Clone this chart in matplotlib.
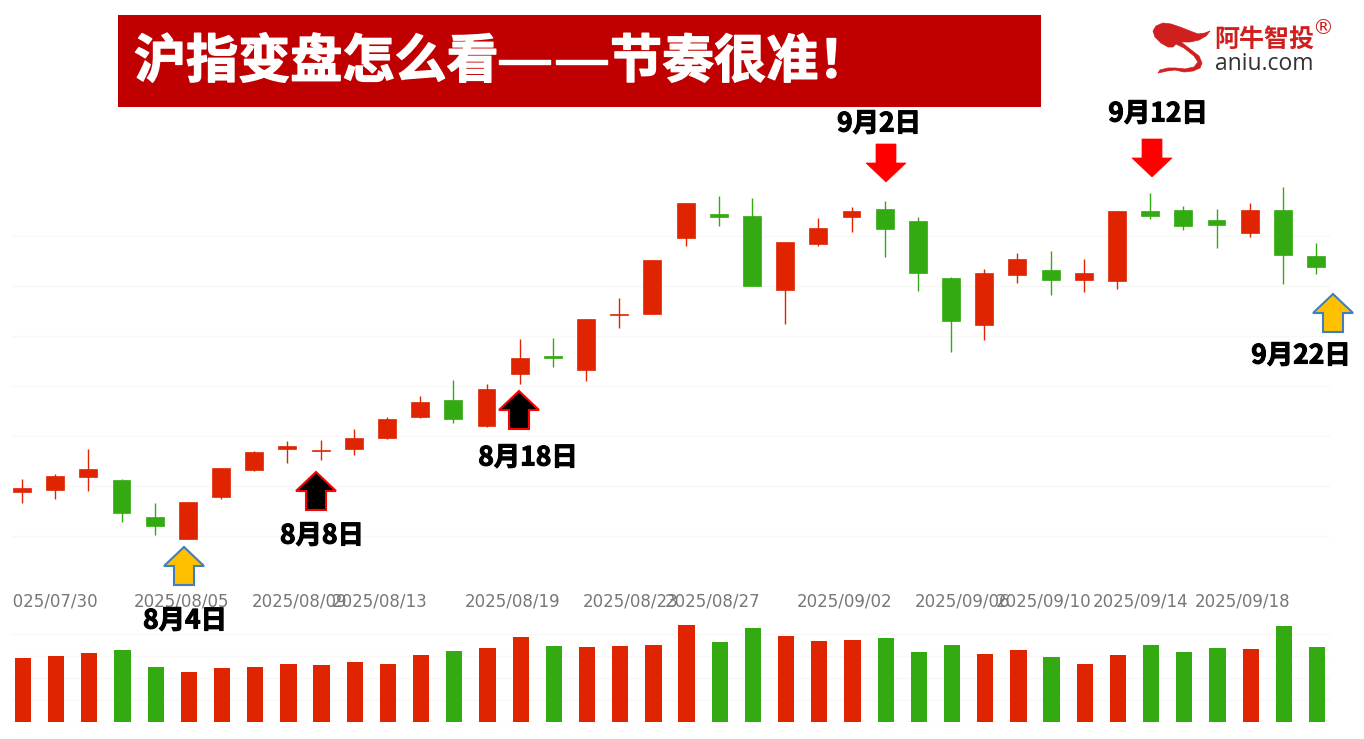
import matplotlib
matplotlib.use('Agg')
import matplotlib.pyplot as plt
import matplotlib.patheffects as pe
from matplotlib.patches import Polygon, Rectangle
from matplotlib.transforms import Bbox

plt.rcParams['font.family'] = ['Noto Sans CJK SC', 'DejaVu Sans']

# daily candles, red = up, green = down
open_px = [3594, 3596, 3609, 3606, 3569, 3547, 3589, 3616, 3637, 3635,
           3637, 3648, 3669, 3686, 3660, 3712, 3730, 3716, 3771, 3772,
           3848, 3872, 3870, 3796, 3842, 3869, 3877, 3865, 3808, 3761,
           3811, 3816, 3806, 3805, 3875, 3876, 3866, 3853, 3876, 3830]
close_px = [3598, 3610, 3617, 3573, 3560, 3584, 3618, 3634, 3640, 3636,
            3648, 3667, 3684, 3667, 3697, 3728, 3728, 3767, 3772, 3826,
            3883, 3869, 3800, 3844, 3858, 3875, 3857, 3813, 3765, 3813,
            3827, 3806, 3813, 3875, 3870, 3860, 3861, 3876, 3831, 3819]
high_px = [3607, 3612, 3637, 3607, 3583, 3584, 3618, 3635, 3645, 3646,
           3657, 3669, 3690, 3706, 3702, 3747, 3748, 3767, 3788, 3826,
           3883, 3890, 3888, 3844, 3868, 3879, 3885, 3869, 3809, 3817,
           3833, 3835, 3827, 3875, 3893, 3880, 3877, 3883, 3899, 3843]
low_px = [3583, 3587, 3595, 3564, 3551, 3547, 3587, 3615, 3623, 3626,
          3631, 3647, 3668, 3663, 3659, 3702, 3719, 3705, 3758, 3772,
          3840, 3860, 3800, 3762, 3840, 3854, 3829, 3795, 3734, 3746,
          3803, 3791, 3794, 3797, 3867, 3856, 3838, 3849, 3802, 3812]
volume = [64, 66, 69, 72, 55, 50, 54, 55, 58, 57,
          60, 58, 67, 71, 74, 85, 76, 75, 76, 77,
          97, 80, 94, 86, 81, 82, 84, 70, 77, 68,
          72, 65, 58, 67, 77, 70, 74, 73, 96, 75]

tick_labels = ['2025/07/30', '2025/08/05', '2025/08/09', '2025/08/13', '2025/08/19',
               '2025/08/23', '2025/08/27', '2025/09/02', '2025/09/06', '2025/09/10',
               '2025/09/14', '2025/09/18']
tick_pos = [0.85, 4.82, 8.35, 10.79, 14.80, 18.35, 20.80, 24.80, 28.35, 30.80, 33.70, 36.80]

price_grid = [3550, 3600, 3650, 3700, 3750, 3800, 3850]
vol_grid = [0, 22, 44, 66, 88]

title_left = '沪指变盘怎么看'
title_dash = '——'
title_right = '节奏很准！'

RED = '#e02400'
GREEN = '#33aa11'
W, H = 1364, 739


def add_axes_px(left, top, right, bottom, **kw):
    return fig.add_axes([left / W, 1 - bottom / H, (right - left) / W, (bottom - top) / H], **kw)


fig = plt.figure(figsize=(W / 100, H / 100), dpi=100, facecolor='white')

ax = add_axes_px(12, 130, 1330, 590)
ax_vol = add_axes_px(12, 612, 1330, 722)
x = list(range(len(open_px)))
colors = [RED if c >= o else GREEN for o, c in zip(open_px, close_px)]
x_lim = (-0.30, 39.42)

# candles
ax.vlines(x, low_px, high_px, colors=colors, linewidth=1, zorder=3)
ax.bar(x, [abs(c - o) for o, c in zip(open_px, close_px)], width=0.54,
       bottom=[min(o, c) for o, c in zip(open_px, close_px)],
       color=colors, edgecolor=colors, linewidth=0.5, zorder=4)
ax.set_xlim(*x_lim)
ax.set_ylim(3496, 3956)
ax.set_yticks([])
for g in price_grid:
    ax.axhline(g, color='#f8f8f8', linewidth=1, zorder=1)
ax.set_xticks(tick_pos)
ax.set_xticklabels(tick_labels, family='DejaVu Sans', fontsize=12, color='#777777')
ax.tick_params(axis='x', length=0, pad=1.5)
for lab in ax.get_xticklabels():
    lab.set_clip_box(Bbox([[12, 0], [W, H]]))
    lab.set_clip_on(True)
for s in ax.spines.values():
    s.set_visible(False)
ax.patch.set_alpha(0)

# volume
ax_vol.bar([i + 0.03 for i in x], volume, width=0.49, color=colors, zorder=3)
ax_vol.set_xlim(*x_lim)
ax_vol.set_ylim(0, 110)
for g in vol_grid:
    ax_vol.axhline(g, color='#f8f8f8', linewidth=1, zorder=1)
ax_vol.set_xticks([])
ax_vol.set_yticks([])
for s in ax_vol.spines.values():
    s.set_visible(False)
ax_vol.patch.set_alpha(0)

# overlay in image pixels for the banner, arrows and logo
top = fig.add_axes([0, 0, 1, 1], zorder=10)
top.set_xlim(0, W)
top.set_ylim(H, 0)
top.axis('off')

top.add_patch(Rectangle((118, 15), 923, 92, color='#c00000', linewidth=0))
heavy_white = [pe.withStroke(linewidth=1.0, foreground='white')]
top.text(134, 62, title_left, color='white', fontsize=37.5, fontweight='bold',
         va='center', ha='left', path_effects=heavy_white)
top.text(553, 62, title_dash, color='white', fontsize=41, family='DejaVu Sans',
         va='center', ha='center', path_effects=heavy_white)
top.text(610, 62, title_right, color='white', fontsize=37.5, fontweight='bold',
         va='center', ha='left', path_effects=heavy_white)


def arrow(tip_x, tip_y, up, fill, edge, lw=1.5):
    s = 1 if up else -1
    pts = [(tip_x, tip_y), (tip_x + 20, tip_y + 19 * s), (tip_x + 10, tip_y + 19 * s),
           (tip_x + 10, tip_y + 38 * s), (tip_x - 10, tip_y + 38 * s),
           (tip_x - 10, tip_y + 19 * s), (tip_x - 20, tip_y + 19 * s)]
    top.add_patch(Polygon(pts, closed=True, facecolor=fill, edgecolor=edge, linewidth=lw))


arrow(184, 547, True, '#ffc000', '#3f7fbf')
arrow(1333, 294, True, '#ffc000', '#3f7fbf')
arrow(316, 472, True, 'black', 'red')
arrow(519, 391, True, 'black', 'red')
arrow(886, 182, False, 'red', 'red', 0.5)
arrow(1152, 177, False, 'red', 'red', 0.5)

for tx, ty, s in [(185, 621, '8月4日'), (322, 536, '8月8日'), (528, 458, '8月18日'),
                  (879, 124, '9月2日'), (1158, 114, '9月12日'), (1301, 356, '9月22日')]:
    top.text(tx, ty, s, fontsize=19, fontweight='bold', color='black', ha='center', va='center',
             path_effects=[pe.withStroke(linewidth=0.8, foreground='black')])

# logo
swoosh = [(1153, 31), (1156, 26), (1163, 23), (1171, 24), (1180, 27), (1190, 31), (1198, 34),
          (1205, 33), (1210, 31), (1206, 36), (1199, 40), (1190, 42), (1181, 42), (1190, 49),
          (1199, 56), (1202, 63), (1200, 68), (1193, 71), (1184, 72), (1175, 70), (1167, 71),
          (1158, 73), (1160, 70), (1168, 68), (1176, 68), (1185, 69), (1194, 67), (1198, 62),
          (1194, 56), (1184, 48), (1176, 44), (1173, 47), (1168, 47), (1161, 43), (1155, 37)]
top.add_patch(Polygon(swoosh, closed=True, facecolor='#d01f1f', edgecolor='#d01f1f', linewidth=0.5))
top.text(1264, 40, '阿牛智投', color='#d01f1f', fontsize=18, fontweight='bold', ha='center', va='center')
top.text(1264, 64, 'aniu.com', color='#333333', fontsize=16.5, family='Open Sans', ha='center', va='center')
top.text(1323, 28, '®', color='#d01f1f', fontsize=15, family='DejaVu Sans', ha='center', va='center')

fig.savefig('out.png', dpi=100)
